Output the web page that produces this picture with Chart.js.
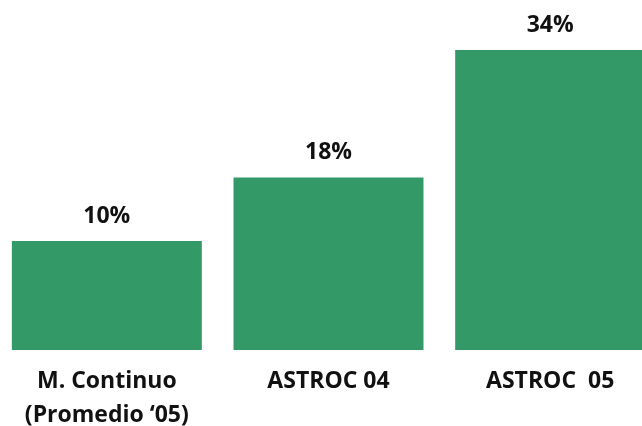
<!DOCTYPE html>
<html>
<head>
<meta charset="utf-8">
<script src="https://cdn.jsdelivr.net/npm/chart.js@4.4.1/dist/chart.umd.min.js"></script>
<style>
	html, body { margin: 0; padding: 0; background: #fff; overflow: hidden; }
	#wrap { width: 665px; height: 426px; margin-left: -4px; }
</style>
</head>
<body>
<div id="wrap"><canvas id="barras"></canvas></div>
<script>
var categorias = [['M. Continuo', '(Promedio \u201805)'], 'ASTROC 04', 'ASTROC  05'];
var porcentajes = [10, 18, 34];

// axis starts a little under zero, bars grow from that floor
var piso = -3.7;

// writes the percentage over each bar
var etiquetas = {
	id: 'etiquetas',
	afterDatasetsDraw: function(chart) {
		var ctx = chart.ctx;
		var meta = chart.getDatasetMeta(0);
		ctx.save();
		ctx.font = 'bold 23px "Open Sans"';
		ctx.fillStyle = '#111';
		ctx.textAlign = 'center';
		ctx.textBaseline = 'alphabetic';
		meta.data.forEach(function(bar, i){
			ctx.fillText(porcentajes[i] + '%', bar.x, bar.y - 18.5);
		});
		ctx.restore();
	}
};

var ctx = document.getElementById('barras').getContext('2d');
var grafico = new Chart(ctx, {
	type: 'bar',
	data: {
		labels: categorias,
		datasets: [{
			data: porcentajes,
			base: piso,
			backgroundColor: '#339966',
			borderWidth: 0,
			barPercentage: 0.857,
			categoryPercentage: 1
		}]
	},
	options: {
		responsive: true,
		maintainAspectRatio: false,
		animation: false,
		layout: { padding: 0 },
		plugins: {
			legend: { display: false },
			tooltip: { enabled: false }
		},
		scales: {
			x: {
				grid: { display: false, drawTicks: false },
				border: { display: false },
				ticks: {
					color: '#111',
					padding: 15,
					maxRotation: 0,
					autoSkip: false,
					font: { family: 'Open Sans', weight: 'bold', size: 23, lineHeight: 1.45 }
				},
				afterFit: function(scale){ scale.height = 76; }
			},
			y: {
				display: false,
				min: piso,
				max: 40.3
			}
		}
	},
	plugins: [etiquetas]
});
</script>
</body>
</html>
